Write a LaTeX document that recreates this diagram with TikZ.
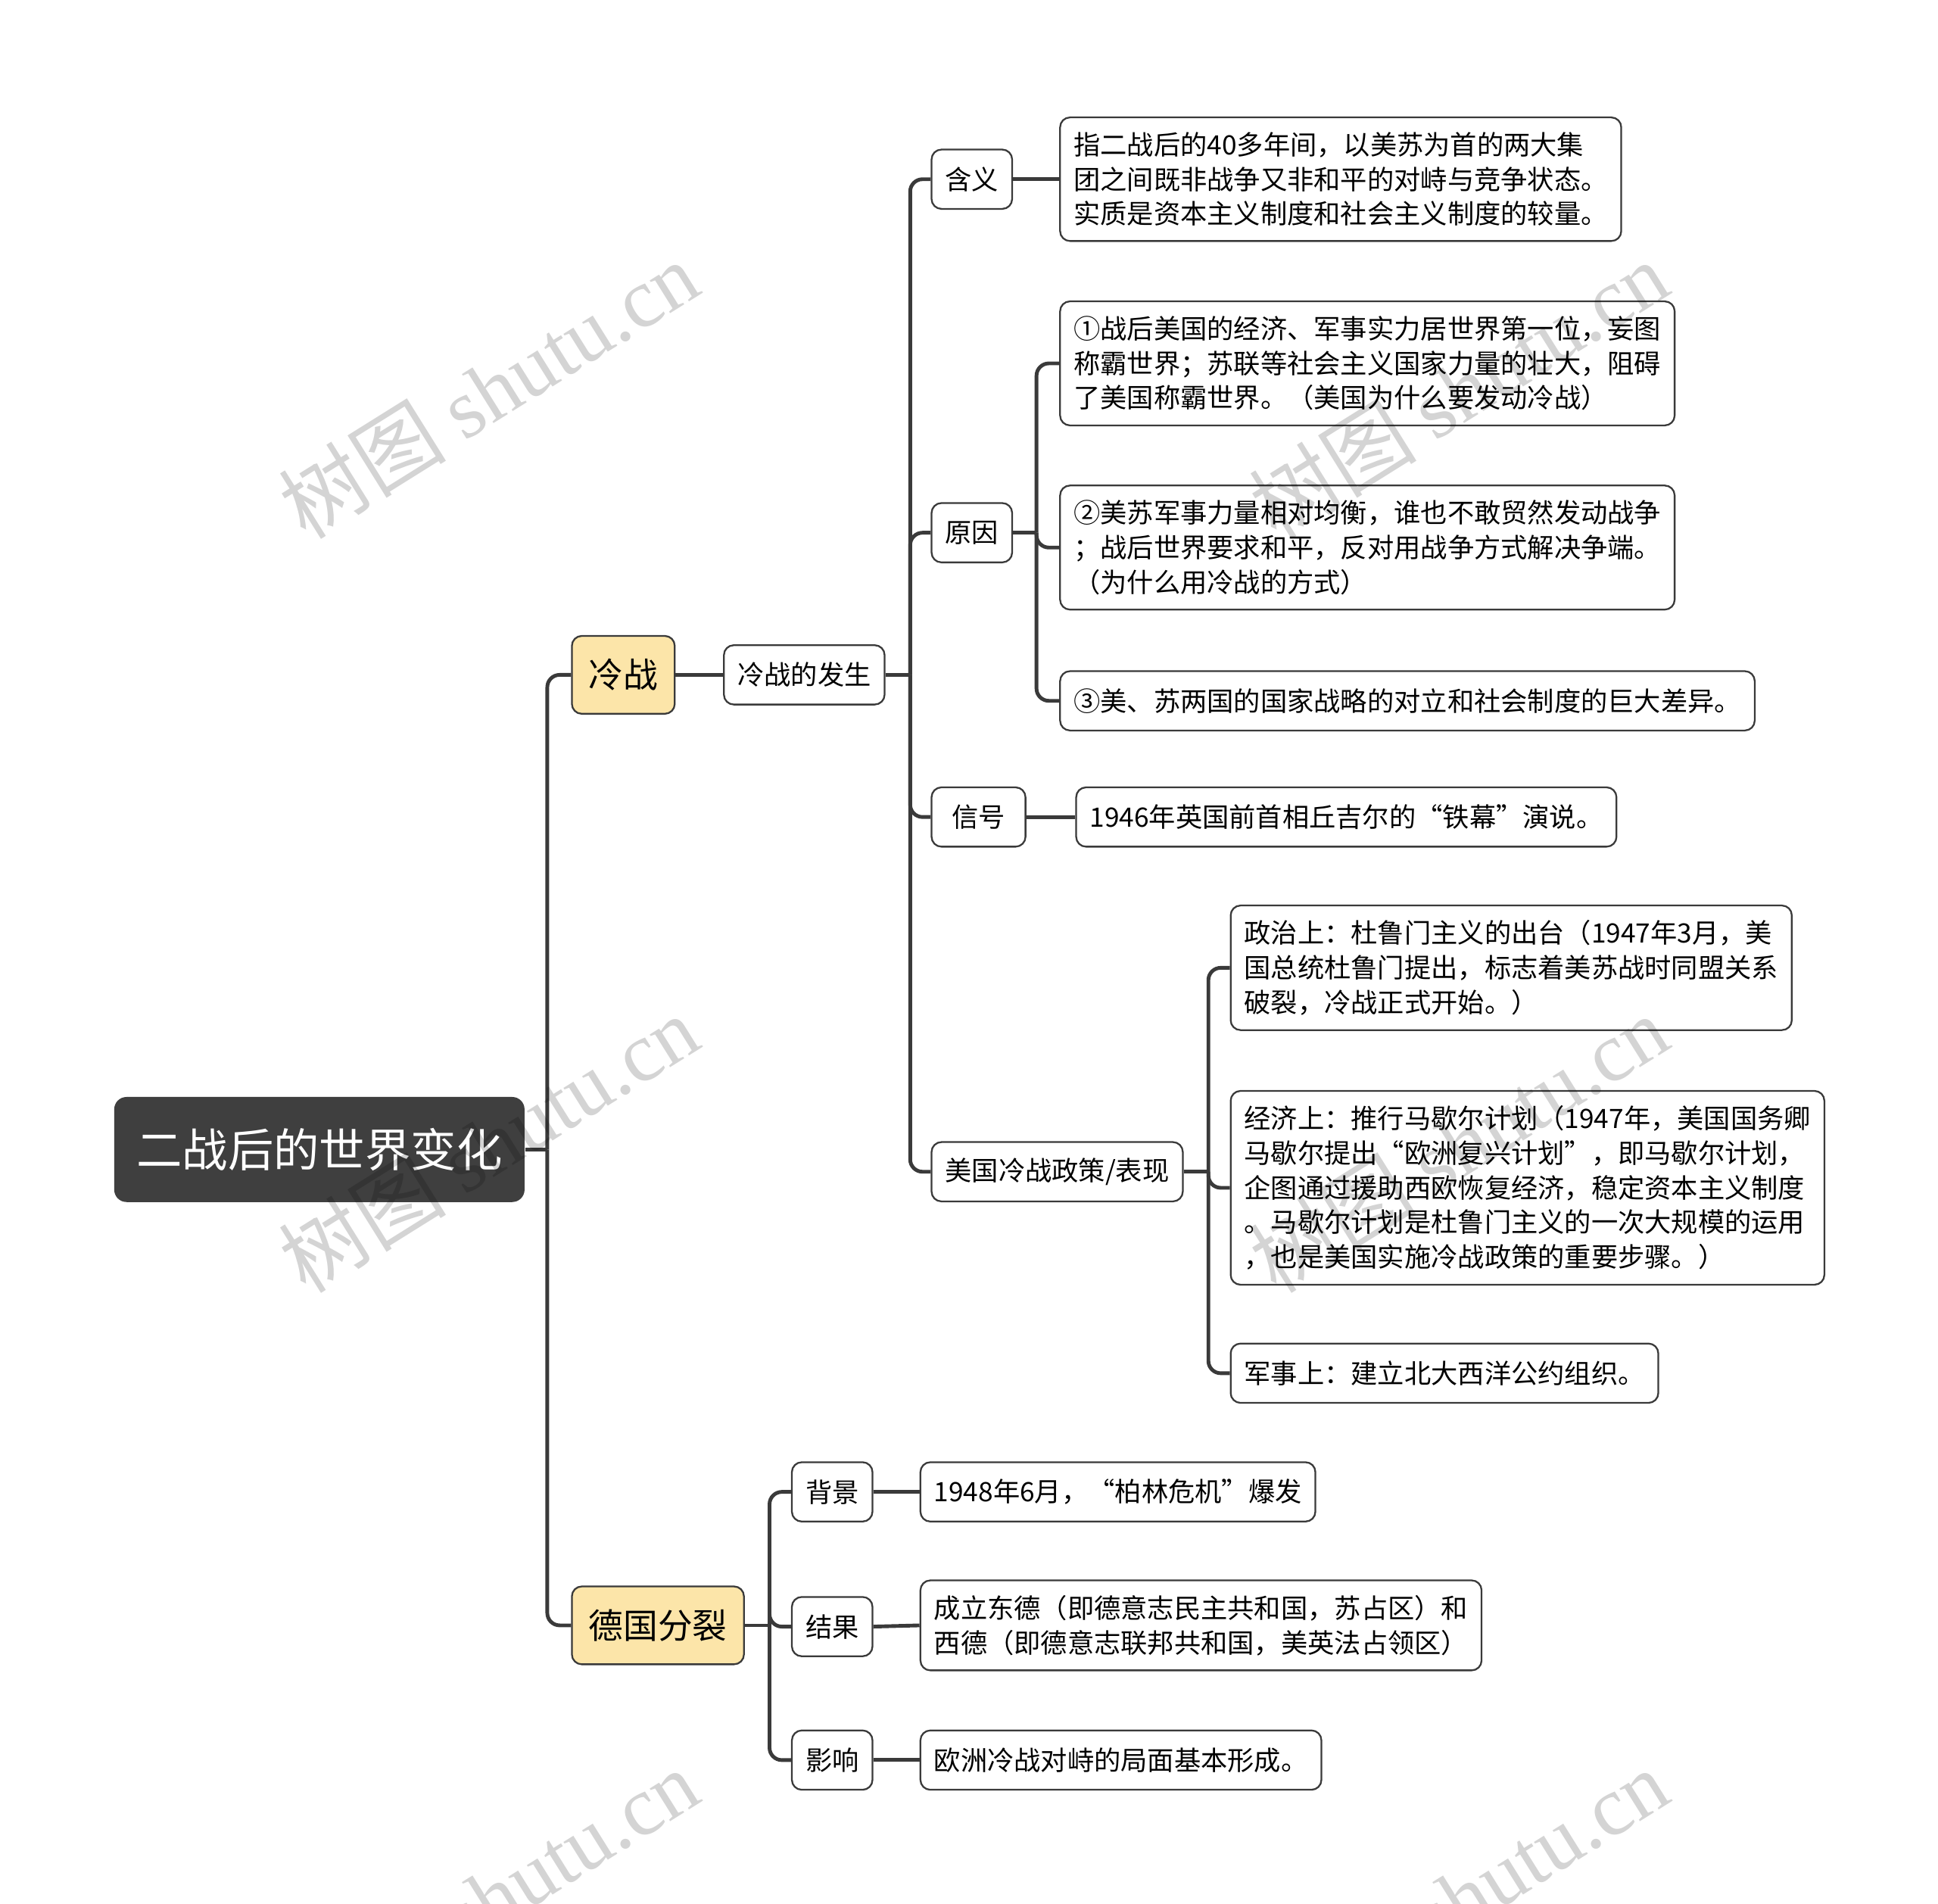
\documentclass[tikz,border=0pt]{standalone}
\usepackage{fontspec}
\setmainfont{Noto Sans CJK SC}
\newfontfamily\wmfont{Liberation Serif}
\usetikzlibrary{positioning, calc}

\definecolor{linegray}{HTML}{3A3A3A}
\definecolor{rootfill}{HTML}{3F3F3F}
\definecolor{topicfill}{HTML}{FCE5A9}

\begin{document}
\begin{tikzpicture}[
    x=0.5pt, y=-0.5pt,
    rootbox/.style={fill=rootfill, text=white, rounded corners=5pt, minimum height=42.5pt, inner xsep=9pt, font=\fontsize{18.5}{22}\selectfont, anchor=west},
    topicbox/.style={draw=linegray, line width=0.7pt, fill=topicfill, rounded corners=4pt, minimum height=31.5pt, inner xsep=6.8pt, font=\fontsize{14}{17}\selectfont, anchor=west},
    subbox/.style={draw=linegray, line width=0.7pt, fill=white, rounded corners=4pt, minimum height=24pt, inner xsep=5.5pt, inner ysep=6pt, font=\fontsize{10.8}{14}\selectfont, align=left, anchor=west},
    conn/.style={draw=linegray, line width=1.5pt, rounded corners=5pt},
    watermark/.style={text=black, text opacity=0.17, rotate=32, font=\fontsize{34}{34}\selectfont}
]
    \useasboundingbox (0,0) rectangle (1568,1540);

    % Root and main topics
    \node[rootbox] (root) at (92,930) {二战后的世界变化};
    \node[topicbox] (lengz) at (462,546) {冷战};
    \node[topicbox] (degu) at (462,1315) {德国分裂};

    % Cold war branch
    \node[subbox] (fasheng) at (585,546) {冷战的发生};
    \node[subbox] (hanyi) at (753,145) {含义};
    \node[subbox] (yuanyin) at (753,431) {原因};
    \node[subbox, minimum width=38pt] (xinhao) at (753,661) {信号};
    \node[subbox] (meiguo) at (753,948) {美国冷战政策/表现};

    \node[subbox] (hanyitxt) at (857,145) {指二战后的40多年间，以美苏为首的两大集\\团之间既非战争又非和平的对峙与竞争状态。\\实质是资本主义制度和社会主义制度的较量。};
    \node[subbox] (yy1) at (857,294) {①战后美国的经济、军事实力居世界第一位，妄图\\称霸世界；苏联等社会主义国家力量的壮大，阻碍\\了美国称霸世界。（美国为什么要发动冷战）};
    \node[subbox] (yy2) at (857,443) {②美苏军事力量相对均衡，谁也不敢贸然发动战争\\；战后世界要求和平，反对用战争方式解决争端。\\（为什么用冷战的方式）};
    \node[subbox] (yy3) at (857,567) {③美、苏两国的国家战略的对立和社会制度的巨大差异。};
    \node[subbox] (xinhaotxt) at (870,661) {1946年英国前首相丘吉尔的“铁幕”演说。};
    \node[subbox] (zhengzhi) at (995,783) {政治上：杜鲁门主义的出台（1947年3月，美\\国总统杜鲁门提出，标志着美苏战时同盟关系\\破裂，冷战正式开始。）};
    \node[subbox] (jingji) at (995,961) {经济上：推行马歇尔计划（1947年，美国国务卿\\马歇尔提出“欧洲复兴计划”，即马歇尔计划，\\企图通过援助西欧恢复经济，稳定资本主义制度\\。马歇尔计划是杜鲁门主义的一次大规模的运用\\，也是美国实施冷战政策的重要步骤。）};
    \node[subbox] (junshi) at (995,1111) {军事上：建立北大西洋公约组织。};

    % Germany branch
    \node[subbox] (beijing) at (640,1207) {背景};
    \node[subbox] (jieguo) at (640,1316) {结果};
    \node[subbox] (yingxiang) at (640,1424) {影响};
    \node[subbox] (beijingtxt) at (744,1207) {1948年6月，“柏林危机”爆发};
    \node[subbox] (jieguotxt) at (744,1315) {成立东德（即德意志民主共和国，苏占区）和\\西德（即德意志联邦共和国，美英法占领区）};
    \node[subbox] (yingxiangtxt) at (744,1424) {欧洲冷战对峙的局面基本形成。};

    % Fork points
    \coordinate (rootfork) at ([xshift=9pt]root.east);
    \coordinate (fashengfork) at ([xshift=10pt]fasheng.east);
    \coordinate (yuanyinfork) at ([xshift=9.5pt]yuanyin.east);
    \coordinate (meiguofork) at ([xshift=10pt]meiguo.east);
    \coordinate (degufork) at ([xshift=10pt]degu.east);

    % Connectors
    \draw[conn] (root.east) -- (rootfork);
    \foreach \kid in {lengz, degu}
        \draw[conn] (rootfork) |- (\kid.west);
    \draw[conn] (lengz.east) -- (fasheng.west);
    \draw[conn] (fasheng.east) -- (fashengfork);
    \foreach \kid in {hanyi, yuanyin, xinhao, meiguo}
        \draw[conn] (fashengfork) |- (\kid.west);
    \draw[conn] (hanyi.east) -- (hanyitxt.west);
    \draw[conn] (yuanyin.east) -- (yuanyinfork);
    \foreach \kid in {yy1, yy2, yy3}
        \draw[conn] (yuanyinfork) |- (\kid.west);
    \draw[conn] (xinhao.east) -- (xinhaotxt.west);
    \draw[conn] (meiguo.east) -- (meiguofork);
    \foreach \kid in {zhengzhi, jingji, junshi}
        \draw[conn] (meiguofork) |- (\kid.west);
    \draw[conn] (degu.east) -- (degufork);
    \foreach \kid in {beijing, jieguo, yingxiang}
        \draw[conn] (degufork) |- (\kid.west);
    \draw[conn] (beijing.east) -- (beijingtxt.west);
    \draw[conn] (jieguo.east) -- (jieguotxt.west);
    \draw[conn] (yingxiang.east) -- (yingxiangtxt.west);

    % Watermarks
    \foreach \wx/\wy in {395/315, 1180/315, 395/925, 1180/925, 395/1535, 1180/1535}
        \node[watermark] (wm\wx\wy) at (\wx,\wy) {树图 {\wmfont shutu.cn}};
\end{tikzpicture}
\end{document}
